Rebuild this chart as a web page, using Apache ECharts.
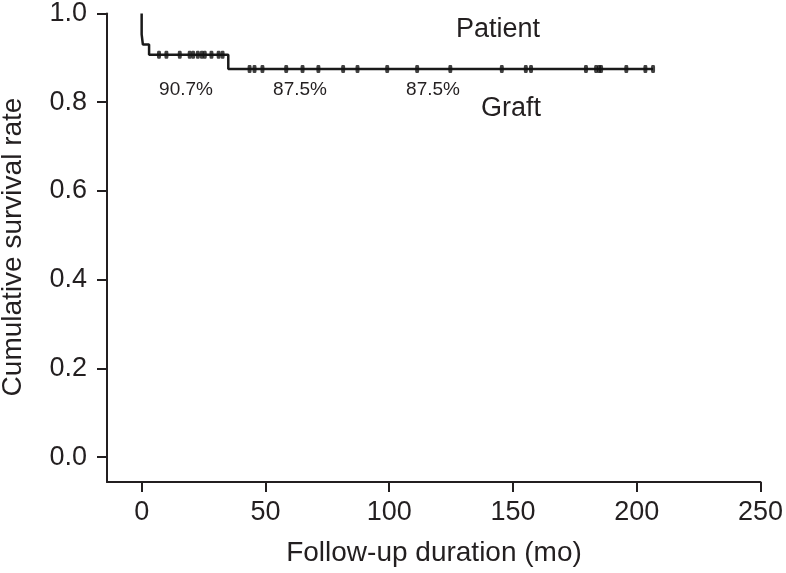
<!DOCTYPE html>
<html>
<head>
<meta charset="utf-8">
<script src="https://cdn.jsdelivr.net/npm/echarts@6/dist/echarts.min.js"></script>
<style>
html,body{margin:0;padding:0;background:#fff;}
#chart{width:786px;height:573px;}
</style>
</head>
<body>
<div id="chart"></div>
<script>
// Kaplan-Meier step points: time (months) and cumulative survival
var kmTimes    = [0,     0,     0.5,   3,     35,    206.6];
var kmSurvival = [1.0,   0.953, 0.930, 0.907, 0.875, 0.875];
// censored observations (times) on each plateau
var censorTimes907 = [7, 10, 15.4, 19.4, 20.8, 22.7, 24.3, 25.5, 28.2, 31.1, 32.7];
var censorTimes875 = [43.6, 45.6, 48.8, 58.4, 65, 71.4, 81.4, 87.2, 99.2, 111.3, 124.7,
                      145.5, 155.2, 157.3, 179.5, 183.6, 184.8, 185.6, 195.8, 203.5, 206.6];
var xTicks = [0, 50, 100, 150, 200, 250];
var yTicks = [0.0, 0.2, 0.4, 0.6, 0.8, 1.0];
var annotations = ['90.7%', '87.5%', '87.5%'];
var curveLabels = ['Patient', 'Graft'];
var xTitle = 'Follow-up duration (mo)';
var yTitle = 'Cumulative survival rate';

var kmData = kmTimes.map(function (t, i) { return [t, kmSurvival[i]]; });
var censorData = censorTimes907.map(function (t) { return [t, 0.907]; })
  .concat(censorTimes875.map(function (t) { return [t, 0.875]; }));

var FONT = '"Liberation Sans", Arial, Helvetica, sans-serif';
var TXT = '#231f20';

var chart = echarts.init(document.getElementById('chart'), null, {renderer: 'canvas'});
chart.setOption({
  animation: false,
  backgroundColor: '#fff',
  grid: {left: 107, right: 25, top: 10, bottom: 91, containLabel: false},
  xAxis: {
    type: 'value', min: -14, max: 250,
    splitLine: {show: false},
    axisLine: {onZero: false, lineStyle: {color: '#231f20', width: 2}},
    axisTick: {show: true, length: 10, lineStyle: {color: '#231f20', width: 2}, customValues: xTicks},
    axisLabel: {customValues: xTicks, margin: 17, color: TXT, fontSize: 27, fontFamily: FONT}
  },
  yAxis: {
    type: 'value', min: -0.056, max: 1.0,
    splitLine: {show: false},
    axisLine: {show: true, onZero: false, lineStyle: {color: '#231f20', width: 2}},
    axisTick: {show: true, length: 10, lineStyle: {color: '#231f20', width: 2}, customValues: yTicks},
    axisLabel: {customValues: yTicks, margin: 20, color: TXT, fontSize: 27, fontFamily: FONT,
      formatter: function (v) { return v.toFixed(1); }}
  },
  series: [
    {
      type: 'line', data: kmData, step: 'end', showSymbol: false, symbol: 'none',
      lineStyle: {color: '#1a1a1a', width: 2.5}, z: 3
    },
    {
      type: 'scatter', data: censorData, symbol: 'roundRect', symbolSize: [4, 8],
      itemStyle: {color: '#111'}, z: 4
    }
  ],
  graphic: [
    {type: 'text', x: 434, y: 553, style: {text: xTitle, align: 'center', verticalAlign: 'middle', fill: TXT, font: '28px ' + FONT}},
    {type: 'text', rotation: Math.PI / 2, x: 13, y: 247, style: {text: yTitle, x: 0, y: 0, align: 'center', verticalAlign: 'middle', fill: TXT, font: '28px ' + FONT}},
    {type: 'text', x: 498, y: 30, style: {text: curveLabels[0], align: 'center', verticalAlign: 'middle', fill: TXT, font: '27px ' + FONT}},
    {type: 'text', x: 511, y: 109, style: {text: curveLabels[1], align: 'center', verticalAlign: 'middle', fill: TXT, font: '27px ' + FONT}},
    {type: 'text', x: 186, y: 90, style: {text: annotations[0], align: 'center', verticalAlign: 'middle', fill: TXT, font: '19px ' + FONT}},
    {type: 'text', x: 300, y: 90, style: {text: annotations[1], align: 'center', verticalAlign: 'middle', fill: TXT, font: '19px ' + FONT}},
    {type: 'text', x: 433, y: 90, style: {text: annotations[2], align: 'center', verticalAlign: 'middle', fill: TXT, font: '19px ' + FONT}}
  ]
});
</script>
</body>
</html>
